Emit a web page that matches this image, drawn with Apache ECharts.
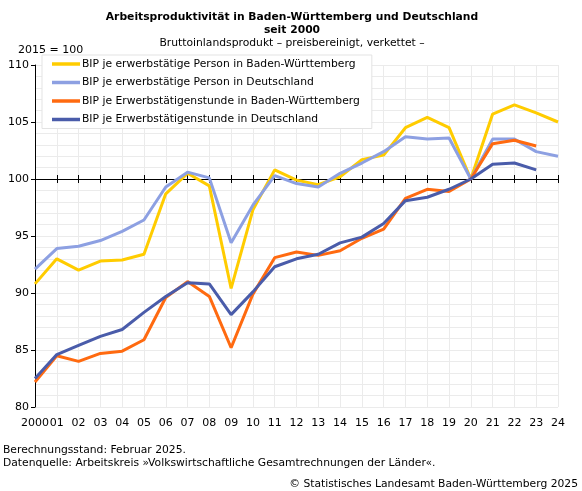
<!DOCTYPE html>
<html><head><meta charset="utf-8">
<script src="https://cdn.jsdelivr.net/npm/echarts@6/dist/echarts.min.js"></script>
<style>html,body{margin:0;padding:0;background:#fff}#c{width:582px;height:491px}</style>
</head><body><div id="c"></div>
<script>
const years = ['2000','01','02','03','04','05','06','07','08','09','10','11','12','13','14','15','16','17','18','19','20','21','22','23','24'];
const seriesNames = [
  'BIP je erwerbstätige Person in Baden-Württemberg',
  'BIP je erwerbstätige Person in Deutschland',
  'BIP je Erwerbstätigenstunde in Baden-Württemberg',
  'BIP je Erwerbstätigenstunde in Deutschland'
];
const bwPerson = [90.8, 93.0, 92.0, 92.8, 92.9, 93.4, 98.7, 100.5, 99.4, 90.4, 97.3, 100.8, 99.9, 99.5, 100.2, 101.7, 102.1, 104.5, 105.4, 104.5, 100.0, 105.7, 106.5, 105.8, 105.0];
const dePerson = [92.1, 93.9, 94.1, 94.6, 95.4, 96.4, 99.3, 100.6, 100.1, 94.4, 97.7, 100.3, 99.6, 99.3, 100.5, 101.4, 102.4, 103.7, 103.5, 103.6, 100.0, 103.5, 103.5, 102.4, 102.0];
const bwHour = [82.2, 84.5, 84.0, 84.7, 84.9, 85.9, 89.6, 91.0, 89.7, 85.2, 89.9, 93.1, 93.6, 93.3, 93.7, 94.8, 95.6, 98.3, 99.1, 98.9, 100.0, 103.1, 103.4, 102.9, null];
const deHour = [82.5, 84.6, 85.4, 86.2, 86.8, 88.3, 89.7, 90.9, 90.8, 88.1, 90.1, 92.3, 93.0, 93.4, 94.4, 94.9, 96.1, 98.1, 98.4, 99.1, 100.0, 101.3, 101.4, 100.8, null];
const yMin = 80, yMax = 110, yStep = 5, baseLine = 100;
const colors = ['#FFCC00', '#8DA0E2', '#FF6A10', '#4A5CAA'];

const FONT = 'DejaVu Sans';
const gridTop = 65, gridBottom = 84, gridLeft = 35, gridRight = 24;
const gridH = 491 - gridTop - gridBottom;
const baseOffset = -(baseLine - yMin) / (yMax - yMin) * gridH;

const chart = echarts.init(document.getElementById('c'), null, {renderer: 'canvas'});
const dataSets = [bwPerson, dePerson, bwHour, deHour];
const option = {
  animation: false,
  textStyle: {fontFamily: FONT},
  grid: {left: gridLeft, right: gridRight, top: gridTop, bottom: gridBottom, containLabel: false},
  title: [
    {text: 'Arbeitsproduktivität in Baden-Württemberg und Deutschland\nseit 2000', left: 287, top: 6, textAlign: 'center',
     textStyle: {fontFamily: FONT, fontSize: 10.75, fontWeight: 'bold', color: '#000', lineHeight: 13}},
    {text: 'Bruttoinlandsprodukt – preisbereinigt, verkettet –', left: 287, top: 33, textAlign: 'center',
     textStyle: {fontFamily: FONT, fontSize: 10.75, fontWeight: 'normal', color: '#000'}},
    {text: '2015 = 100', left: 13, top: 40, textStyle: {fontFamily: FONT, fontSize: 11, fontWeight: 'normal', color: '#000'}}
  ],
  legend: {
    orient: 'vertical', left: 42, top: 55, padding: [2, 12, 2, 10],
    backgroundColor: '#fff', borderColor: '#e3e3e3', borderWidth: 1,
    icon: 'rect', itemWidth: 28, itemHeight: 3.5, itemGap: 4.5,
    textStyle: {fontFamily: FONT, fontSize: 10.75, color: '#000', padding: [0, 0, 0, -3], lineHeight: 14},
    data: seriesNames
  },
  xAxis: [
    {type: 'category', data: years, boundaryGap: false,
     axisLine: {show: false}, axisTick: {show: false},
     axisLabel: {fontFamily: FONT, fontSize: 11, color: '#000', margin: 11, interval: 0},
     splitLine: {show: true, lineStyle: {color: '#ebebeb', width: 1}}},
    {type: 'category', data: years, boundaryGap: false, position: 'bottom', offset: baseOffset,
     axisLine: {show: true, lineStyle: {color: '#000', width: 1}},
     axisTick: {show: true, length: 4, interval: 0, lineStyle: {color: '#000'}},
     axisLabel: {show: false}, splitLine: {show: false}},
    {type: 'category', data: years, boundaryGap: false, position: 'bottom', offset: baseOffset,
     axisLine: {show: false},
     axisTick: {show: true, inside: true, length: 4, interval: 0, lineStyle: {color: '#000'}},
     axisLabel: {show: false}, splitLine: {show: false}}
  ],
  yAxis: {
    type: 'value', min: yMin, max: yMax, interval: yStep,
    axisLine: {show: true, lineStyle: {color: '#000', width: 1}},
    axisTick: {show: true, length: 4, lineStyle: {color: '#000'}},
    axisLabel: {fontFamily: FONT, fontSize: 11, color: '#000', margin: 6},
    splitLine: {show: true, lineStyle: {color: '#ebebeb'}},
    minorTick: {show: false, splitNumber: 5},
    minorSplitLine: {show: true, lineStyle: {color: '#ebebeb'}}
  },
  graphic: [
    {type: 'text', left: 3, top: 444, style: {text: 'Berechnungsstand: Februar 2025.\nDatenquelle: Arbeitskreis »Volkswirtschaftliche Gesamtrechnungen der Länder«.', font: '10.75px "DejaVu Sans"', fill: '#000', lineHeight: 13}},
    {type: 'text', right: 4, top: 479, style: {text: '© Statistisches Landesamt Baden-Württemberg 2025', font: '10.75px "DejaVu Sans"', fill: '#000'}}
  ],
  series: dataSets.map((d, i) => ({
    name: seriesNames[i], type: 'line', data: d, xAxisIndex: 0,
    showSymbol: false, symbol: 'none', connectNulls: false,
    lineStyle: {width: 3, color: colors[i]}, itemStyle: {color: colors[i]}, z: 2 + i
  }))
};
chart.setOption(option);
</script></body></html>
